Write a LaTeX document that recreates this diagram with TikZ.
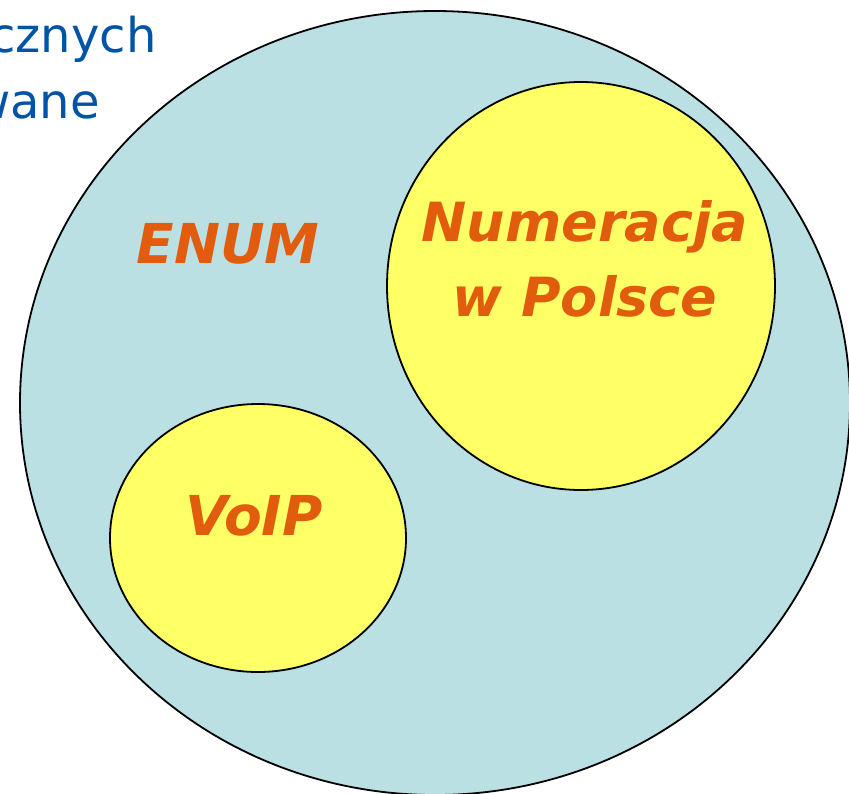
\documentclass[tikz,border=0pt]{standalone}
\usepackage{fontspec}
\setmainfont{DejaVu Sans}
\usetikzlibrary{shapes.geometric}
\definecolor{enumblue}{RGB}{186,224,227}
\definecolor{setyellow}{RGB}{255,255,102}
\definecolor{setorange}{RGB}{226,92,14}
\definecolor{slideblue}{RGB}{0,84,166}
\begin{document}
\begin{tikzpicture}[%
 x=1pt,y=-1pt,
 set/.style={
 	ellipse,
 	draw=black,
 	line width=1.8pt,
 	inner sep=0pt
 },
 setlabel/.style={
 	text=setorange,
 	font=\fontsize{55}{75}\selectfont\bfseries\itshape,
 	align=center,
 	inner sep=0pt
 },
 slidetext/.style={
 	text=slideblue,
 	font=\fontsize{48}{66}\selectfont,
 	anchor=base west,
 	inner sep=0pt
 }
 ]
 \clip (0,0) rectangle (849,793);
 \draw (435,403) node[set,fill=enumblue,minimum width=830pt,minimum height=784pt] (E) {};
 \path (581,286) node[set,fill=setyellow,minimum width=388pt,minimum height=408pt] (N) {}
 (258,538) node[set,fill=setyellow,minimum width=296pt,minimum height=268pt] (V) {};
 \path (228,244) node[setlabel] (EL) {ENUM}
 (585,259) node[setlabel,font=\fontsize{54}{75}\selectfont\bfseries\itshape] (NL) {Numeracja\\w Polsce}
 (254,516) node[setlabel] (VL) {VoIP};

 %\draw (N.south) -- (V.north);
 \path (-11,52) node[slidetext] (T1) {cznych}
 (-29,118) node[slidetext] (T2) {wane};
 \end{tikzpicture}
\end{document}
